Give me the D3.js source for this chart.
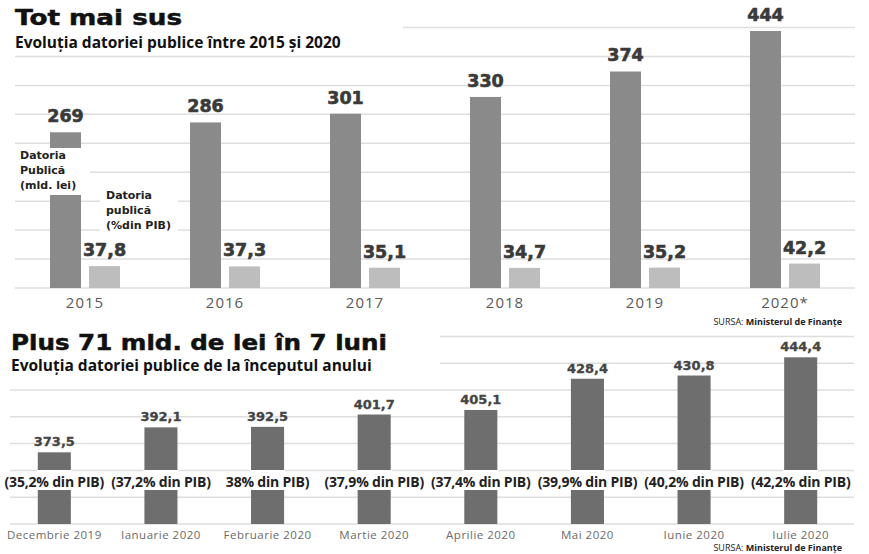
<!DOCTYPE html>
<html><head><meta charset="utf-8">
<script src="https://cdn.jsdelivr.net/npm/d3@7"></script>
<style>
html,body{margin:0;padding:0;background:#fff;}
svg{display:block;}
</style></head>
<body>
<svg id="chart" width="869" height="554"></svg>
<script>
// ---- Data: top chart ----
const years = ["2015","2016","2017","2018","2019","2020*"];
const debtBn = [269, 286, 301, 330, 374, 444];
const debtPct = [37.8, 37.3, 35.1, 34.7, 35.2, 42.2];
const topGridTicks = [0,50,100,150,200,250,300,350,400,450];

// ---- Data: bottom chart ----
const months = ["Decembrie 2019","Ianuarie 2020","Februarie 2020","Martie 2020","Aprilie 2020","Mai 2020","Iunie 2020","Iulie 2020"];
const monthDebt = [373.5, 392.1, 392.5, 401.7, 405.1, 428.4, 430.8, 444.4];
const monthPctLabels = ["(35,2% din PIB)","(37,2% din PIB)","38% din PIB)","(37,9% din PIB)","(37,4% din PIB)","(39,9% din PIB)","(40,2% din PIB)","(42,2% din PIB)"];
const bottomGridTicks = [320,340,360,380,400,420,440,460];

const fmt = v => String(v).replace(".", ",");
const svg = d3.select("#chart");
const HEAVY = "'DejaVu Sans', sans-serif";
const SANS = "'Open Sans', sans-serif";
const grid = "#dedede";

// ================= TOP CHART =================
const xT = d3.scaleBand().domain(years).range([15, 855]).paddingInner(0.5).paddingOuter(0.25);
const xSub = d3.scaleBand().domain(["bn","pct"]).range([0, xT.bandwidth()]).paddingInner(0.205);
const yT = d3.scaleLinear().domain([0, 450]).range([288, 27.5]);

const gT = svg.append("g");
gT.selectAll("line.grid").data(topGridTicks).join("line")
  .attr("x1", d => d === 450 ? 403 : 15).attr("x2", 855)
  .attr("y1", d => yT(d)).attr("y2", d => yT(d))
  .attr("stroke", grid).attr("stroke-width", 1.5);

gT.selectAll("rect.bn").data(years).join("rect").attr("class","bn")
  .attr("x", d => xT(d) + xSub("bn")).attr("width", xSub.bandwidth())
  .attr("y", (d,i) => yT(debtBn[i])).attr("height", (d,i) => yT(0) - yT(debtBn[i]))
  .attr("fill", "#8a8a8a");
gT.selectAll("rect.pct").data(years).join("rect").attr("class","pct")
  .attr("x", d => xT(d) + xSub("pct")).attr("width", xSub.bandwidth())
  .attr("y", (d,i) => yT(debtPct[i])).attr("height", (d,i) => yT(0) - yT(debtPct[i]))
  .attr("fill", "#bdbdbd");

gT.selectAll("text.bn").data(years).join("text")
  .attr("x", d => xT(d) + xSub("bn") + xSub.bandwidth()/2)
  .attr("y", (d,i) => yT(debtBn[i]) - 10)
  .attr("text-anchor","middle").attr("font-family",HEAVY).attr("font-weight","bold")
  .attr("font-size",17.5).attr("fill","#3a3a3a").attr("stroke","#3a3a3a").attr("stroke-width",0.6)
  .text((d,i) => debtBn[i]);
gT.selectAll("text.pct").data(years).join("text")
  .attr("x", d => xT(d) + xSub("pct") + xSub.bandwidth()/2)
  .attr("y", (d,i) => yT(debtPct[i]) - 10)
  .attr("text-anchor","middle").attr("font-family",HEAVY).attr("font-weight","bold")
  .attr("font-size",17.5).attr("fill","#3a3a3a").attr("stroke","#3a3a3a").attr("stroke-width",0.6)
  .text((d,i) => fmt(debtPct[i]));

// x axis labels
const axT = gT.append("g").attr("transform","translate(0,293)")
  .call(d3.axisBottom(xT).tickSize(0).tickPadding(4));
axT.select(".domain").remove();
axT.selectAll("text").attr("font-family",SANS).attr("font-size",15).attr("fill","#5a5a5a")
  .attr("letter-spacing","1px");

// legend labels with white boxes
gT.append("rect").attr("x",14).attr("y",148).attr("width",76).attr("height",47).attr("fill","#fff");
gT.append("rect").attr("x",100).attr("y",182).attr("width",78).attr("height",54).attr("fill","#fff");
const leg1 = ["Datoria","Publică","(mld. lei)"];
const leg2 = ["Datoria","publică","(%din PIB)"];
gT.selectAll("text.l1").data(leg1).join("text")
  .attr("x",20).attr("y",(d,i)=>159+i*15).attr("font-family",HEAVY).attr("font-weight","bold")
  .attr("font-size",11).attr("fill","#222").text(d=>d);
gT.selectAll("text.l2").data(leg2).join("text")
  .attr("x",106).attr("y",(d,i)=>199+i*15).attr("font-family",HEAVY).attr("font-weight","bold")
  .attr("font-size",11).attr("fill","#222").text(d=>d);

// titles
svg.append("text").attr("x",15).attr("y",25).attr("font-family",HEAVY).attr("font-weight","bold")
  .attr("font-size",21).attr("fill","#111").attr("stroke","#111").attr("stroke-width",0.5)
  .attr("textLength",167).attr("lengthAdjust","spacingAndGlyphs").text("Tot mai sus");
svg.append("text").attr("x",15).attr("y",48).attr("font-family",SANS).attr("font-weight","bold")
  .attr("font-size",15.5).attr("fill","#111").text("Evoluția datoriei publice între 2015 și 2020");

function source(y) {
  const t = svg.append("text").attr("x",842).attr("y",y).attr("text-anchor","end")
    .attr("font-family",SANS).attr("font-size",9).attr("fill","#222");
  t.append("tspan").text("SURSA: ");
  t.append("tspan").attr("font-weight","bold").text("Ministerul de Finanțe");
}
source(325);

// ================= BOTTOM CHART =================
const xB = d3.scaleBand().domain(months).range([1, 854]).paddingInner(0.69).paddingOuter(0.345);
const yB = d3.scaleLinear().domain([320, 460]).range([524, 336.4]);
const gB = svg.append("g");

gB.selectAll("line.grid").data(bottomGridTicks).join("line")
  .attr("x1", d => d >= 440 ? 440 : 10).attr("x2", 854)
  .attr("y1", d => yB(d)).attr("y2", d => yB(d))
  .attr("stroke", grid).attr("stroke-width", 1.5);

gB.selectAll("rect.m").data(months).join("rect")
  .attr("x", d => xB(d)).attr("width", xB.bandwidth())
  .attr("y", (d,i) => yB(monthDebt[i])).attr("height", (d,i) => yB(320) - yB(monthDebt[i]))
  .attr("fill", "#6e6e6e");

gB.selectAll("text.v").data(months).join("text")
  .attr("x", d => xB(d) + xB.bandwidth()/2)
  .attr("y", (d,i) => yB(monthDebt[i]) - 6)
  .attr("text-anchor","middle").attr("font-family",HEAVY).attr("font-weight","bold")
  .attr("font-size",13).attr("fill","#444").attr("stroke","#444").attr("stroke-width",0.3)
  .text((d,i) => fmt(monthDebt[i]));

// percent labels with white background
const pl = gB.selectAll("g.pl").data(months).join("g")
  .attr("transform", d => `translate(${xB(d) + xB.bandwidth()/2},0)`);
pl.append("rect").attr("x",-xB.bandwidth()/2 - 1).attr("width",xB.bandwidth()+2)
  .attr("y",470).attr("height",20).attr("fill","#fff");
pl.append("text").attr("x",0).attr("y",487).attr("text-anchor","middle")
  .attr("font-family",SANS).attr("font-weight","bold").attr("font-size",14).attr("fill","#222")
  .attr("letter-spacing","-0.2px")
  .text((d,i) => monthPctLabels[i]);

const axB = gB.append("g").attr("transform","translate(0,528)")
  .call(d3.axisBottom(xB).tickSize(0).tickPadding(3));
axB.select(".domain").remove();
axB.selectAll("text").attr("font-family",SANS).attr("font-size",11.5).attr("fill","#6a6a6a")
  .attr("letter-spacing","0.5px");

svg.append("text").attr("x",11).attr("y",350).attr("font-family",HEAVY).attr("font-weight","bold")
  .attr("font-size",21).attr("fill","#111").attr("stroke","#111").attr("stroke-width",0.5)
  .attr("textLength",376).attr("lengthAdjust","spacingAndGlyphs").text("Plus 71 mld. de lei în 7 luni");
svg.append("text").attr("x",11).attr("y",371).attr("font-family",SANS).attr("font-weight","bold")
  .attr("font-size",15.5).attr("fill","#111").text("Evoluția datoriei publice de la începutul anului");

source(551);
</script>
</body></html>
